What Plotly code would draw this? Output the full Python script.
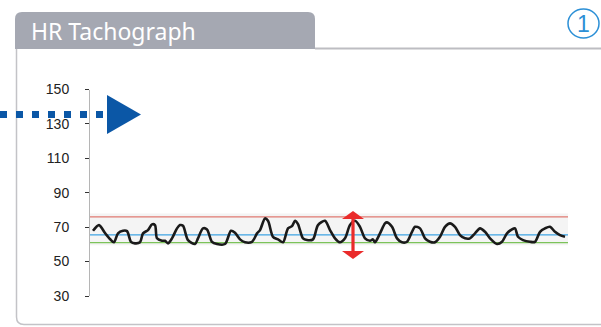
import plotly.graph_objects as go

# ---- data ----
time_s = [3, 9, 15, 20, 24, 28, 33, 37, 41, 45, 50, 53, 58, 62, 65, 67, 72, 75, 78, 82,
          87, 90, 93, 98, 105, 108, 113, 117, 122, 127, 135, 141, 145, 150, 155, 162, 167, 170,
          175, 178, 183, 188, 193, 198, 202, 205, 208, 213, 217, 223, 228, 235, 240, 245, 250,
          255, 260, 265, 270, 275, 280, 283, 285, 290, 295, 297, 302, 307, 312, 317, 322, 325,
          330, 335, 340, 345, 350, 355, 360, 365, 370, 375, 380, 385, 390, 395, 400, 407, 412,
          417, 422, 425, 428, 433, 440, 445, 450, 455, 460, 465, 470, 475]
heart_rate = [67.9, 71.2, 66.6, 63.1, 61.2, 66.4, 67.9, 67.7, 61.5, 60.6, 61.2, 66.4, 68.3,
              71.6, 71.2, 63.5, 62.1, 62.1, 60.6, 63.5, 69.3, 71.2, 70.8, 62.5, 60.2, 63.5,
              69.3, 68.7, 61.5, 60.2, 60.2, 67.9, 66.7, 62.9, 61.2, 61.5, 66.4, 68.3, 75.1,
              73.7, 64.4, 62.9, 61.2, 69.3, 70.6, 73.7, 71.8, 63.5, 62.5, 62.9, 71.2, 73.7,
              68.3, 63.5, 61.2, 63.5, 71.2, 73.7, 70.2, 63.5, 62.1, 62.9, 61.2, 66.4, 72.2,
              72.8, 70.2, 63.5, 61.2, 61.5, 67.3, 70.2, 69.3, 63.5, 61.5, 61.2, 64.4, 70.2,
              72.2, 70.2, 65.4, 63.5, 63.5, 66.4, 69.3, 67.3, 63.5, 60.2, 61.5, 66.4, 68.7,
              69.3, 64.4, 62.5, 61.5, 61.5, 67.3, 69.3, 70.2, 67.3, 65.4, 64.4]
y_ticks = [30, 50, 70, 90, 110, 130, 150]
upper_limit = 76
mean_level = 65.5
lower_limit = 61
band_low, band_high = 59.5, 78
title_text = "HR Tachograph"
badge_text = "1"

W, H = 601, 327
fig = go.Figure()

fig.add_trace(go.Scatter(x=time_s, y=heart_rate, mode="lines",
                         line=dict(color="#1a1a1a", width=2.6, shape="spline", smoothing=0.8),
                         hoverinfo="skip", showlegend=False))

fig.update_layout(
    width=W, height=H, margin=dict(l=0, r=0, t=0, b=0, pad=0),
    paper_bgcolor="white", plot_bgcolor="rgba(0,0,0,0)",
    xaxis=dict(domain=[90 / W, 568 / W], range=[0, 478], visible=False, fixedrange=True),
    yaxis=dict(domain=[1 - 296 / H, 1 - 89.5 / H], range=[30, 150], tickvals=y_ticks,
               showline=True, linecolor="#b5b5b5", linewidth=1, ticks="outside",
               tickcolor="#333333", ticklen=4, tickwidth=1, showgrid=False, zeroline=False,
               ticklabelstandoff=13, automargin=False,
               tickfont=dict(family="Liberation Sans, Arial", size=14, color="#222222")),
    xaxis2=dict(domain=[0, 1], range=[0, W], visible=False, anchor="y2"),
    yaxis2=dict(domain=[0, 1], range=[H, 0], visible=False, anchor="x2"),
)

shapes = []
# background band and reference lines
shapes.append(dict(type="rect", xref="x domain", yref="y", x0=0, x1=1, y0=band_low, y1=band_high,
                   fillcolor="#f4f4f4", line=dict(width=0), layer="below"))
for val, col in [(upper_limit, "#e07a72"), (mean_level, "#3ea3e3"), (lower_limit, "#7cc35a")]:
    shapes.append(dict(type="line", xref="x domain", yref="y", x0=0, x1=1, y0=val, y1=val,
                       line=dict(color=col, width=1.3), layer="below"))

# panel frame and tab (decoration, pixel coordinates)
shapes.append(dict(type="path", xref="x2", yref="y2",
                   path="M 16.5 48 L 16.5 317 Q 16.5 324.5 24 324.5 L 601 324.5",
                   line=dict(color="#c3c3c7", width=1.5), layer="below"))
shapes.append(dict(type="line", xref="x2", yref="y2", x0=315, x1=601, y0=48.5, y1=48.5,
                   line=dict(color="#bdbdc2", width=2), layer="below"))
shapes.append(dict(type="path", xref="x2", yref="y2",
                   path="M 15 49 L 15 19 Q 15 12 22 12 L 308 12 Q 315 12 315 19 L 315 49 Z",
                   fillcolor="#a5a8b2", line=dict(width=0), layer="below"))
# badge circle
shapes.append(dict(type="circle", xref="x2", yref="y2", x0=568, x1=599, y0=9, y1=38,
                   line=dict(color="#2b8fd6", width=1.5), layer="above"))
# dotted blue pointer
shapes.append(dict(type="line", xref="x2", yref="y2", x0=0, x1=104, y0=114.5, y1=114.5,
                   line=dict(color="#0b57a6", width=7, dash="7px,9px"), layer="above"))
shapes.append(dict(type="path", xref="x2", yref="y2", path="M 107 95 L 141 114.5 L 107 134 Z",
                   fillcolor="#0b57a6", line=dict(width=0), layer="above"))
# red double arrow
shapes.append(dict(type="line", xref="x2", yref="y2", x0=353, x1=353, y0=215, y1=255,
                   line=dict(color="#ea2b2b", width=3.2), layer="above"))
shapes.append(dict(type="path", xref="x2", yref="y2", path="M 342 219 L 353 211 L 364 219 Z",
                   fillcolor="#ea2b2b", line=dict(width=0), layer="above"))
shapes.append(dict(type="path", xref="x2", yref="y2", path="M 342 251 L 353 259 L 364 251 Z",
                   fillcolor="#ea2b2b", line=dict(width=0), layer="above"))
fig.update_layout(shapes=shapes)

fig.add_annotation(xref="x2", yref="y2", x=29, y=31, xanchor="left", yanchor="middle",
                   text=title_text, showarrow=False,
                   font=dict(family="Noto Sans, Liberation Sans", size=23, color="white"))
fig.add_annotation(xref="x2", yref="y2", x=583.5, y=24, xanchor="center", yanchor="middle",
                   text=badge_text, showarrow=False,
                   font=dict(family="Liberation Sans, Arial", size=23, color="#2b8fd6"))

fig.write_html("out.html", config={"displayModeBar": False, "staticPlot": True},
               post_script="document.body.style.margin='0';document.body.style.overflow='hidden';")
